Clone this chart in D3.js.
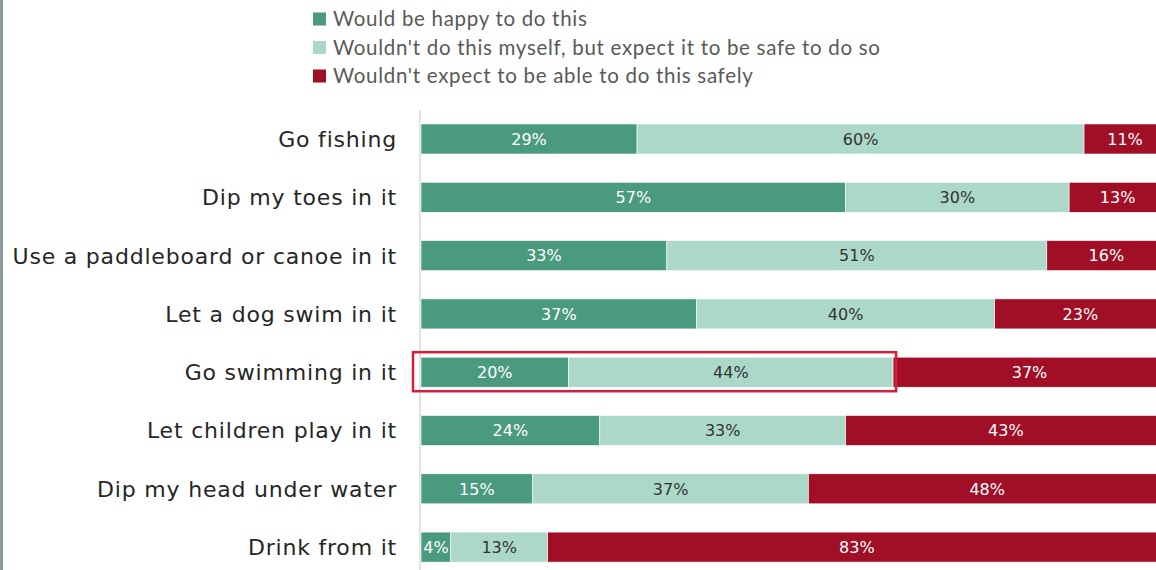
<!DOCTYPE html>
<html><head><meta charset="utf-8">
<script src="https://cdn.jsdelivr.net/npm/d3@7"></script>
<style>body{margin:0;background:#fff;}svg{display:block;}</style>
</head><body>
<svg id="c" width="1156" height="570"></svg>
<script>
const categories = ["Go fishing","Dip my toes in it","Use a paddleboard or canoe in it","Let a dog swim in it","Go swimming in it","Let children play in it","Dip my head under water","Drink from it"];
const happy = [29,57,33,37,20,24,15,4];
const safe = [60,30,51,40,44,33,37,13];
const unsafe = [11,13,16,23,37,43,48,83];
const seriesNames = ["Would be happy to do this","Wouldn't do this myself, but expect it to be safe to do so","Wouldn't expect to be able to do this safely"];
const colors = ["#4a9a7f","#acd8ca","#a00f26"];
const labelColors = ["#ffffff","#333333","#ffffff"];
const highlighted = "Go swimming in it";

const svg = d3.select("#c");
svg.append("rect").attr("x",0).attr("y",0).attr("width",3).attr("height",570).attr("fill","#8d9ba1");

const rows = categories.map((c,i)=>({cat:c, vals:[happy[i],safe[i],unsafe[i]]}));
const x = d3.scaleLinear().domain([0,1]).range([421,1166]);
const y = d3.scaleBand().domain(categories).range([95.7,590.4]).padding(0.485);

svg.append("line").attr("x1",420).attr("x2",420).attr("y1",110).attr("y2",570).attr("stroke","#d9d9d9").attr("stroke-width",1.5);

const stack = d3.stack().keys([0,1,2]).value((d,k)=>d.vals[k]).offset(d3.stackOffsetExpand);
const layers = stack(rows);

layers.forEach((layer,k)=>{
  const g = svg.append("g");
  g.selectAll("rect").data(layer).join("rect")
    .attr("x",d=>x(d[0])).attr("width",d=>x(d[1])-x(d[0]))
    .attr("y",d=>y(d.data.cat)).attr("height",y.bandwidth())
    .attr("fill",colors[k]).attr("stroke","#fff").attr("stroke-width",0.6);
  g.selectAll("text").data(layer).join("text")
    .attr("x",d=>(x(d[0])+x(d[1]))/2).attr("y",d=>y(d.data.cat)+y.bandwidth()/2)
    .attr("dy","0.36em").attr("text-anchor","middle")
    .attr("font-family","'DejaVu Sans', sans-serif").attr("font-size",16)
    .attr("fill",labelColors[k])
    .text(d=>d.data.vals[k]+"%");
});

const hi = categories.indexOf(highlighted);
const hEnd = layers[1][hi][1];
svg.append("rect")
  .attr("x",x(0)-8).attr("y",y(highlighted)-5)
  .attr("width",x(hEnd)-x(0)+8+3).attr("height",y.bandwidth()+9)
  .attr("fill","none").attr("stroke","#d41f3a").attr("stroke-width",2.5);

svg.append("g").selectAll("text").data(categories).join("text")
  .attr("x",397).attr("y",d=>y(d)+y.bandwidth()/2).attr("dy","0.36em")
  .attr("text-anchor","end").attr("font-family","'DejaVu Sans', sans-serif")
  .attr("font-size",22).attr("letter-spacing",0.8).attr("fill","#262626").text(d=>d);

const lg = svg.append("g");
seriesNames.forEach((n,i)=>{
  const cy = 19 + i*28.5;
  lg.append("rect").attr("x",313).attr("y",cy-6.5).attr("width",13).attr("height",13).attr("fill",colors[i]);
  lg.append("text").attr("x",333).attr("y",cy).attr("dy","0.35em")
    .attr("font-family","Lato, sans-serif").attr("font-size",20.5).attr("letter-spacing",0.7)
    .attr("fill","#595959").text(n);
});
</script>
</body></html>
